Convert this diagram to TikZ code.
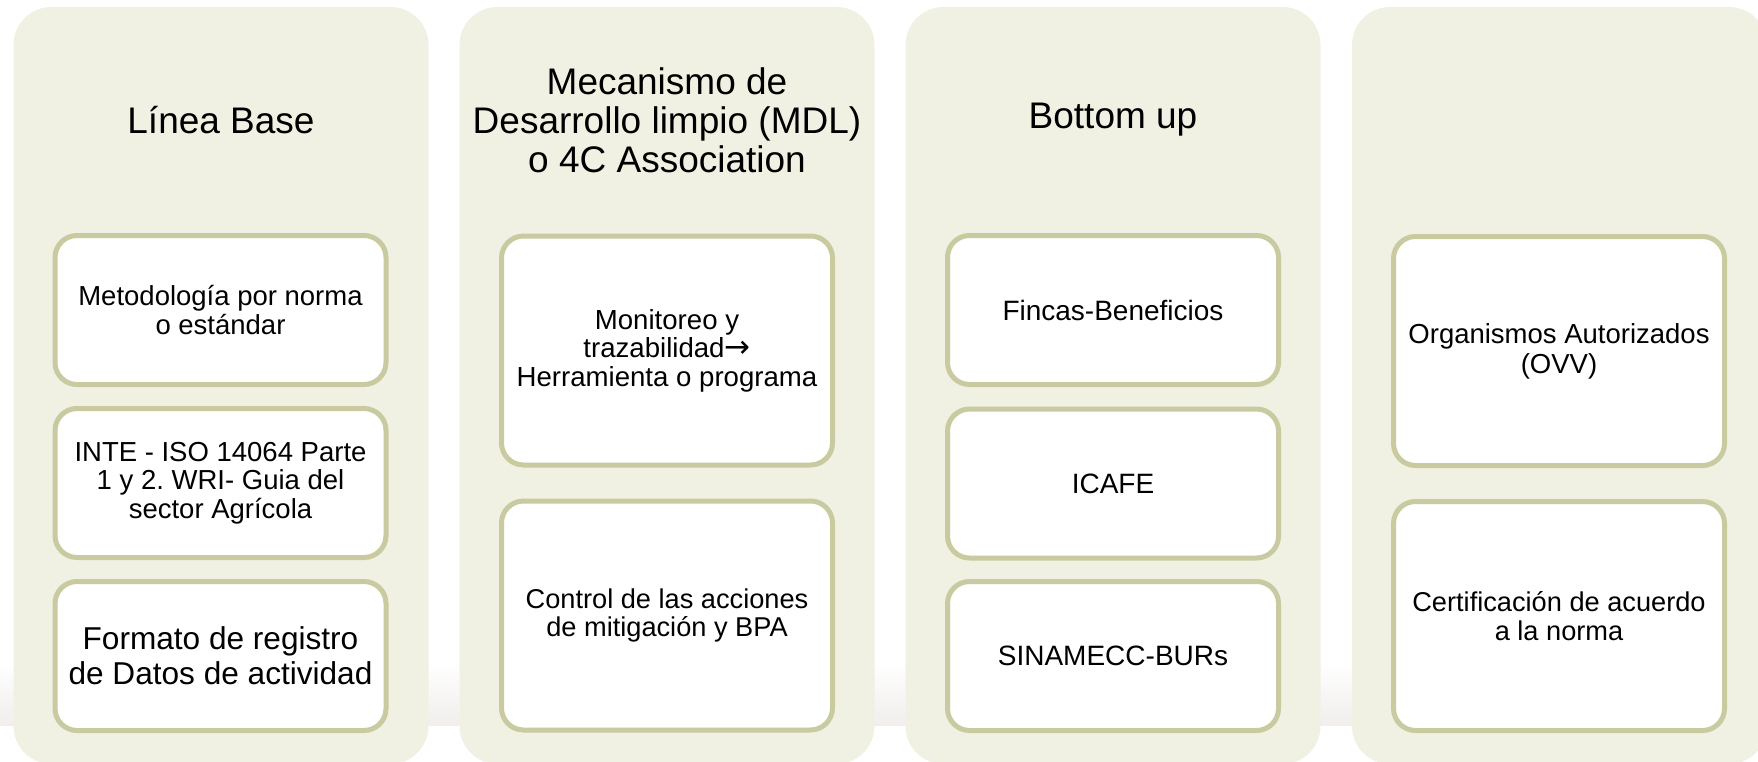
\documentclass[tikz,border=0pt]{standalone}
\usepackage{fontspec}
\setmainfont{Liberation Sans}
\newfontfamily\flecha{DejaVu Sans}
\frenchspacing

\definecolor{fondocol}{RGB}{240,241,227}
\definecolor{bordecaja}{RGB}{201,202,160}
\definecolor{sombra}{RGB}{241,238,236}

\tikzset{
  columna/.style={fill=fondocol, rounded corners=38pt, minimum width=415pt, minimum height=757pt, inner sep=0pt},
  caja/.style={fill=white, draw=bordecaja, line width=5pt, rounded corners=22pt, minimum width=331pt, inner sep=0pt, align=center},
  corta/.style={caja, minimum height=149pt},
  larga/.style={caja, minimum height=229pt},
  titulo/.style={align=center, font=\fontsize{37}{39}\selectfont},
}
\newcommand{\letra}[2]{\fontsize{#1}{#2}\selectfont}

\begin{document}
\begin{tikzpicture}[x=1pt, y=-1pt]
\useasboundingbox (0, 0) rectangle (1758, 762);
\clip (0, 0) rectangle (1758, 762);
% Reflejo
\shade[top color=white, bottom color=sombra] (0, 663) rectangle (1758, 725);
% Columnas
\node[columna] (col1) at (221, 385.5) {};
\node[columna] (col2) at (667, 385.5) {};
\node[columna] (col3) at (1113, 385.5) {};
\node[columna] (col4) at (1559.5, 385.5) {};
% Titulos
\node[titulo] (tit1) at (221, 120) {Línea Base};
\node[titulo] (tit2) at (667, 120) {Mecanismo de\\Desarrollo limpio (MDL)\\o 4C Association};
\node[titulo] (tit3) at (1113, 120) {Bottom up};
% Linea base
\node[corta, font=\letra{27.5}{28.5}] (lb1) at (220.5, 310) {Metodología por norma\\o estándar};
\node[corta, font=\letra{27.5}{28.7}] (lb2) at (220.5, 483) {INTE - ISO 14064 Parte\\1 y 2. WRI- Guia del\\sector Agrícola};
\node[corta, font=\letra{31.6}{35}] (lb3) at (220.5, 656) {Formato de registro\\de Datos de actividad};
% MDL
\node[larga, font=\letra{27.6}{28.5}] (mdl1) at (667, 350.5) {Monitoreo y\\trazabilidad{\flecha\fontsize{31}{28.5}\selectfont →}\\Herramienta o programa};
\node[larga, font=\letra{27.2}{27.5}] (mdl2) at (667, 615.5) {Control de las acciones\\de mitigación y BPA};
% Bottom up
\node[corta, font=\letra{28}{30}] (bu1) at (1113, 310) {Fincas-Beneficios};
\node[corta, font=\letra{28}{30}] (bu2) at (1113, 483.5) {ICAFE};
\node[corta, font=\letra{28}{30}] (bu3) at (1113, 656) {SINAMECC-BURs};
% Verificacion
\node[larga, font=\letra{27.5}{30}] (ver1) at (1559, 351) {Organismos Autorizados\\(OVV)};
\node[larga, font=\letra{27.2}{28.5}] (ver2) at (1559, 616) {Certificación de acuerdo\\a la norma};
\end{tikzpicture}
\end{document}
